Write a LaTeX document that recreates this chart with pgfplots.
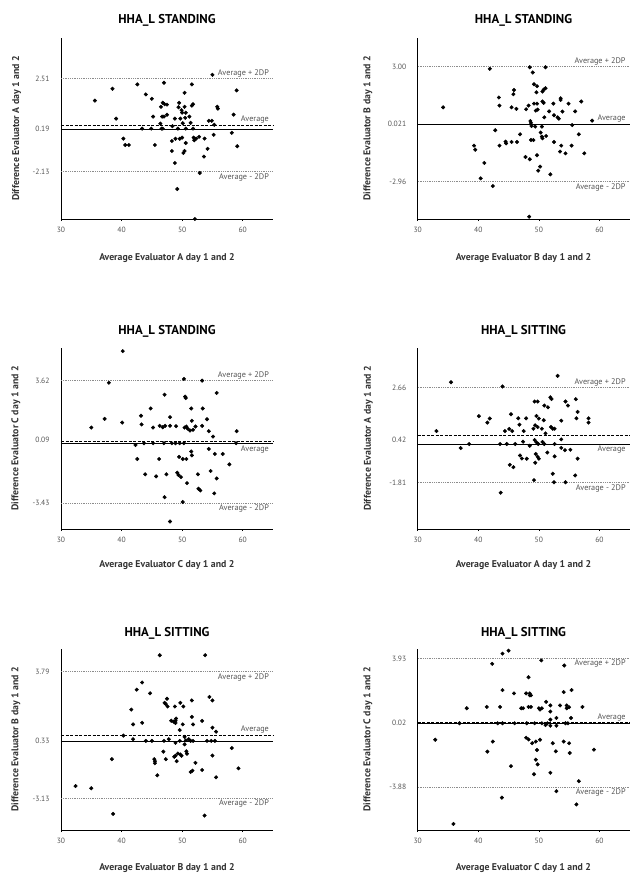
\documentclass[border=0pt]{standalone}
\usepackage{fontspec}
\setmainfont{PT Sans}
\usepackage{pgfplots}
\pgfplotsset{compat=1.18}
\definecolor{limgray}{HTML}{8C8C8C}
\definecolor{txtgray}{HTML}{555555}
\definecolor{lblgray}{HTML}{333333}
\pgfplotsset{
  ba/.style={
    scale only axis, width=212pt, height=181pt,
    anchor=south west,
    xmin=30, xmax=65,
    axis lines*=left,
    axis line style={line width=0.9pt},
    xtick={30,40,50,60}, xticklabels={30,40,50,60},
    tick align=outside, major tick length=2pt,
    xtick style={black, line width=0.6pt},
    ytick style={draw=none},
    ticklabel style={font=\fontsize{7.6}{9}\selectfont, text=txtgray},
    xticklabel style={yshift=-3pt},
    yticklabel style={xshift=-6pt},
    clip=false,
  },
  pts/.style={only marks, mark=*, mark size=1.8pt, black},
  lim/.style={limgray, densely dotted, line width=0.8pt},
  avg/.style={black, dash pattern=on 3pt off 1.5pt, line width=1pt},
  zer/.style={black, line width=1pt},
}
\newcommand{\ann}{\fontsize{8.2}{9}\selectfont\color{txtgray}}
\tikzset{ttl/.style={font=\fontsize{12.8}{14}\selectfont\bfseries},
  lbl/.style={font=\fontsize{9.8}{11}\selectfont\bfseries, text=lblgray}}
\begin{document}
\begin{tikzpicture}[x=1pt,y=1pt]
\path[use as bounding box] (0,0) rectangle (642,-883);

% ---------- Panel 1 ----------
\begin{axis}[ba, at={(61pt,-219pt)}, ymin=-4.5, ymax=4.55,
  ytick={-2.13,0,2.51}, yticklabels={-2.13,0.19,2.51}]
\addplot[lim] coordinates {(30,2.51) (65,2.51)};
\addplot[lim] coordinates {(30,-2.13) (65,-2.13)};
\addplot[avg] coordinates {(30,0.19) (65,0.19)};
\addplot[zer] coordinates {(30,0) (65,0)};
\addplot[pts] coordinates {
(35.6,1.42)(38.5,2.01)(42.6,2.23)(47.0,2.31)(50.4,1.81)(51.6,2.23)(55.0,2.71)(59.0,1.93)
(44.0,1.73)(45.0,1.51)(39.1,0.52)(45.2,0.62)(43.4,0.02)(44.9,0.02)(40.3,-0.48)(40.6,-0.80)
(41.2,-0.80)(45.5,-0.80)(46.5,1.11)(46.8,1.31)(47.1,1.24)(47.5,1.22)(46.7,0.62)(47.0,0.62)
(47.5,0.71)(46.4,0.27)(46.6,0.02)(46.8,0.02)(48.4,0.14)(48.8,0.52)(49.4,1.09)(49.5,1.31)
(49.7,0.52)(49.9,0.94)(50.0,0.82)(50.4,1.11)(50.5,0.56)(50.6,0.81)(51.2,0.62)(51.4,0.31)
(51.6,1.17)(51.8,1.24)(49.3,0.02)(50.6,0.02)(51.8,0.02)(48.3,-0.60)(48.9,-0.49)(49.6,-0.49)
(50.0,-0.43)(50.6,-0.70)(52.0,-0.56)(51.9,-0.43)(52.3,-0.48)(52.8,-0.39)(53.7,-0.48)(48.3,-1.10)
(48.8,-1.70)(50.2,-1.20)(50.4,-1.10)(53.6,-1.38)(54.2,-0.99)(52.9,-2.20)(49.2,-3.00)(52.1,-4.50)
(54.4,0.41)(54.9,0.41)(55.3,0.21)(55.2,-0.29)(55.8,1.11)(55.9,1.02)(58.5,0.72)(58.2,-0.19)
(59.1,-0.86)(50.1,0.29)};
\node[anchor=south east, inner sep=1.5pt] at (axis cs:64.6,2.51) {\ann Average + 2DP};
\node[anchor=south east, inner sep=1.5pt] at (axis cs:64.6,0.19) {\ann Average};
\node[anchor=north east, inner sep=1.5pt] at (axis cs:64.6,-2.13) {\ann Average - 2DP};
\end{axis}

% ---------- Panel 2 ----------
\begin{axis}[ba, at={(417.7pt,-219pt)}, ymin=-4.9, ymax=4.5,
  ytick={-2.96,0.021,3}, yticklabels={-2.96,0.021,3.00}]
\addplot[lim] coordinates {(30,3) (65,3)};
\addplot[lim] coordinates {(30,-2.96) (65,-2.96)};
\addplot[avg] coordinates {(30,0.021) (65,0.021)};
\addplot[zer] coordinates {(30,0) (65,0)};
\addplot[pts] coordinates {
(34.2,0.90)(41.9,2.90)(48.5,2.98)(51.1,2.98)(49.0,2.71)(49.2,2.10)(49.7,2.00)(49.6,1.68)
(50.6,1.72)(50.8,1.82)(51.1,1.89)(45.9,1.80)(45.8,1.58)(43.4,1.41)(43.5,0.99)(45.5,0.90)
(46.3,0.82)(47.9,0.80)(48.3,0.99)(49.2,1.09)(49.7,1.09)(49.5,0.73)(49.8,0.78)(50.6,1.20)
(50.8,1.13)(51.7,0.69)(52.4,1.09)(52.5,0.49)(53.1,0.38)(53.3,0.31)(53.6,1.37)(53.6,1.28)
(53.9,0.68)(54.9,1.09)(56.0,0.69)(57.0,1.20)(58.8,0.21)(55.5,-0.02)(50.9,0.38)(48.6,0.19)
(48.7,0.09)(48.8,-0.07)(50.5,-0.10)(49.4,-0.10)(42.8,-0.29)(46.9,-0.50)(44.5,-0.88)(44.6,-0.97)
(43.5,-1.09)(45.5,-0.90)(46.4,-0.90)(48.7,-0.80)(49.1,-0.80)(50.3,-0.41)(50.5,-0.62)(51.2,-0.59)
(50.6,-0.71)(52.5,-0.90)(53.7,-1.09)(55.4,-1.09)(56.6,-0.50)(53.5,-1.40)(54.4,-1.49)(57.5,-1.49)
(39.3,-1.09)(39.5,-1.30)(41.0,-1.99)(40.4,-2.79)(42.4,-3.19)(47.8,-1.68)(48.5,-1.80)(49.7,-1.59)
(49.9,-2.39)(50.2,-2.18)(51.9,-2.58)(48.4,-4.78)};
\node[anchor=south east, inner sep=1.5pt] at (axis cs:64.6,3) {\ann Average + 2DP};
\node[anchor=south east, inner sep=1.5pt] at (axis cs:64.6,0.021) {\ann Average};
\node[anchor=north east, inner sep=1.5pt] at (axis cs:64.6,-2.96) {\ann Average - 2DP};
\end{axis}

% ---------- Panel 3 ----------
\begin{axis}[ba, at={(61pt,-529pt)}, ymin=-4.92, ymax=5.5,
  ytick={-3.43,0.2,3.62}, yticklabels={-3.43,0.09,3.62}]
\addplot[lim] coordinates {(30,3.62) (65,3.62)};
\addplot[lim] coordinates {(30,-3.43) (65,-3.43)};
\addplot[avg] coordinates {(30,0.09) (65,0.09)};
\addplot[zer] coordinates {(30,0) (65,0)};
\addplot[pts] coordinates {
(40.2,5.32)(37.9,3.50)(50.3,3.72)(53.3,3.62)(47.1,2.81)(50.5,2.70)(50.6,2.62)(55.7,2.91)
(44.8,2.02)(51.5,2.02)(53.4,2.02)(37.2,1.42)(43.2,1.60)(43.3,1.10)(35.0,0.92)(40.1,1.21)
(48.0,1.52)(45.2,0.92)(46.3,1.02)(46.8,0.94)(47.2,1.02)(48.0,1.02)(49.0,1.00)(50.4,0.92)
(50.7,0.98)(50.9,0.86)(51.3,0.75)(51.6,1.31)(51.8,0.79)(52.2,0.98)(53.3,1.02)(54.1,1.40)
(54.4,0.71)(55.1,0.40)(59.0,0.71)(42.3,-0.08)(43.7,0.02)(45.2,0.02)(47.0,0.02)(48.3,0.02)
(48.9,0.02)(49.6,0.02)(50.3,0.02)(58.9,0.02)(54.4,-0.31)(55.4,-0.60)(56.7,-0.60)(57.8,-1.20)
(51.5,-0.46)(51.6,-0.68)(49.5,-0.77)(50.1,-0.89)(50.7,-0.89)(42.6,-0.89)(46.2,-0.89)(43.9,-1.77)
(45.7,-1.89)(47.4,-1.77)(49.2,-1.68)(49.4,-1.81)(49.8,-1.93)(50.8,-2.28)(52.6,-1.77)(52.7,-2.60)
(53.0,-2.70)(54.7,-1.58)(55.7,-2.01)(55.3,-2.87)(47.1,-3.09)(50.1,-3.37)(48.0,-4.49)};
\node[anchor=south east, inner sep=1.5pt] at (axis cs:64.6,3.62) {\ann Average + 2DP};
\node[anchor=north east, inner sep=1.5pt] at (axis cs:64.6,0) {\ann Average};
\node[anchor=north east, inner sep=1.5pt] at (axis cs:64.6,-3.43) {\ann Average - 2DP};
\end{axis}

% ---------- Panel 4 ----------
\begin{axis}[ba, at={(417.7pt,-529pt)}, ymin=-4.0, ymax=4.52,
  ytick={-1.81,0.2,2.66}, yticklabels={-1.81,0.42,2.66}]
\addplot[lim] coordinates {(30,2.66) (65,2.66)};
\addplot[lim] coordinates {(30,-1.81) (65,-1.81)};
\addplot[avg] coordinates {(30,0.42) (65,0.42)};
\addplot[zer] coordinates {(30,0) (65,0)};
\addplot[pts] coordinates {
(35.5,2.91)(44.0,2.71)(53.1,3.21)(33.1,0.61)(37.1,-0.19)(38.5,0.0)(40.1,1.31)(41.5,1.01)
(41.9,1.20)(45.4,1.40)(44.4,0.61)(45.1,0.71)(45.6,0.61)(46.6,1.21)(46.8,0.91)(47.5,0.61)
(47.9,1.21)(49.1,0.72)(49.4,0.88)(49.6,1.32)(50.0,1.20)(50.8,1.12)(50.5,0.72)(49.8,0.80)
(49.3,2.00)(49.8,2.00)(50.9,1.81)(51.5,1.73)(51.9,2.20)(52.1,2.12)(51.1,0.50)(52.0,0.80)
(52.3,0.72)(52.6,0.72)(54.4,2.00)(54.8,1.81)(56.1,2.11)(56.4,1.51)(56.2,1.21)(53.7,1.10)
(58.2,1.21)(58.2,1.01)(43.6,0.0)(44.7,0.0)(46.1,0.0)(47.4,0.11)(48.5,-0.08)(49.3,0.19)
(49.6,0.08)(49.9,0.0)(50.6,0.10)(50.9,0.0)(52.6,0.0)(51.4,-0.40)(53.7,-0.18)(54.3,-0.29)
(55.2,-0.27)(53.7,0.22)(46.9,-0.54)(47.2,-0.68)(48.0,-0.69)(49.5,-0.47)(49.8,-0.60)(50.0,-0.69)
(52.6,-0.58)(56.4,-0.69)(45.2,-0.98)(45.8,-1.09)(49.4,-0.88)(52.3,-1.40)(56.0,-1.48)(49.2,-1.70)
(52.5,-1.80)(54.4,-1.80)(43.7,-2.29)};
\node[anchor=south east, inner sep=1.5pt] at (axis cs:64.6,2.66) {\ann Average + 2DP};
\node[anchor=north east, inner sep=1.5pt] at (axis cs:64.6,0) {\ann Average};
\node[anchor=north east, inner sep=1.5pt] at (axis cs:64.6,-1.81) {\ann Average - 2DP};
\end{axis}

% ---------- Panel 5 ----------
\begin{axis}[ba, at={(61pt,-830pt)}, ymin=-4.86, ymax=5.03,
  ytick={-3.13,0,3.79}, yticklabels={-3.13,0.33,3.79}]
\addplot[lim] coordinates {(30,3.79) (65,3.79)};
\addplot[lim] coordinates {(30,-3.13) (65,-3.13)};
\addplot[avg] coordinates {(30,0.33) (65,0.33)};
\addplot[zer] coordinates {(30,0) (65,0)};
\addplot[pts] coordinates {
(46.3,4.69)(53.8,4.69)(43.4,3.20)(42.5,2.81)(44.7,2.61)(41.6,1.72)(41.9,0.91)(43.4,1.00)
(40.3,0.30)(41.9,0.10)(44.0,0.01)(45.0,0.01)(47.0,0.01)(47.8,0.10)(38.4,-0.99)(32.4,-2.46)
(35.0,-2.58)(38.6,-3.98)(53.7,-4.07)(47.5,2.31)(47.1,2.09)(47.3,2.02)(47.6,1.89)(48.8,1.89)
(49.7,2.09)(50.2,1.89)(51.6,2.22)(51.6,1.32)(51.8,0.91)(53.3,1.10)(54.5,2.41)(55.0,2.22)
(48.2,1.11)(48.6,1.06)(48.9,1.11)(48.9,0.99)(49.0,1.23)(50.1,0.91)(49.6,0.60)(55.0,0.73)
(55.6,0.51)(50.4,0.23)(49.6,0.01)(48.9,-0.10)(50.4,-0.18)(50.6,0.04)(51.1,0.10)(51.4,0.01)
(51.8,0.01)(54.1,0.01)(54.8,0.01)(55.4,0.01)(58.2,-0.38)(46.9,-0.58)(47.3,-0.99)(48.7,-0.86)
(48.9,-0.80)(49.1,-1.10)(49.3,-0.68)(49.7,-0.73)(49.9,-0.80)(50.7,-0.56)(50.8,-0.69)(55.0,-0.79)
(45.4,-0.99)(45.5,-1.10)(45.5,-1.21)(52.2,-1.19)(45.9,-1.87)(51.4,-1.69)(51.7,-1.62)(53.3,-1.58)
(55.6,-1.98)(59.3,-1.49)};
\node[anchor=north east, inner sep=1.5pt] at (axis cs:64.6,3.79) {\ann Average + 2DP};
\node[anchor=south east, inner sep=1.5pt] at (axis cs:64.6,0.33) {\ann Average};
\node[anchor=north east, inner sep=1.5pt] at (axis cs:64.6,-3.13) {\ann Average - 2DP};
\end{axis}

% ---------- Panel 6 ----------
\begin{axis}[ba, at={(417.7pt,-830pt)}, ymin=-6.47, ymax=4.5,
  ytick={-3.88,0.02,3.93}, yticklabels={-3.88,0.02,3.93}]
\addplot[lim] coordinates {(30,3.93) (65,3.93)};
\addplot[lim] coordinates {(30,-3.88) (65,-3.88)};
\addplot[avg] coordinates {(30,0.02) (65,0.02)};
\addplot[zer] coordinates {(30,0) (65,0)};
\addplot[pts] coordinates {
(44.0,4.22)(45.0,4.40)(42.3,3.60)(50.4,3.81)(54.2,3.50)(48.3,2.79)(44.0,2.01)(45.9,1.81)
(47.9,1.81)(48.5,1.81)(48.7,1.69)(48.5,1.69)(54.1,1.89)(55.4,2.01)(51.2,1.30)(51.9,1.08)
(53.5,1.08)(54.6,1.08)(55.0,0.97)(54.6,0.91)(57.2,0.99)(38.1,0.91)(41.4,0.99)(43.6,0.99)
(47.1,0.91)(47.4,0.91)(48.3,0.99)(48.7,0.99)(50.0,0.91)(50.2,0.83)(50.5,0.91)(51.9,0.71)
(52.9,0.32)(55.3,0.32)(51.9,0.22)(36.9,0.0)(43.2,0.0)(44.0,0.0)(46.0,0.0)(48.0,0.0)
(49.3,0.0)(50.5,0.0)(51.1,-0.11)(51.4,0.0)(51.9,-0.15)(52.9,-0.15)(54.4,0.0)(54.8,0.0)
(32.9,-1.00)(42.4,-1.11)(41.5,-1.72)(47.9,-0.88)(48.3,-0.98)(48.9,-1.21)(49.5,-1.11)(50.2,-1.00)
(52.3,-1.21)(54.1,-1.11)(55.0,-1.21)(49.7,-1.62)(52.8,-1.70)(55.1,-1.80)(59.1,-1.60)(49.5,-2.21)
(49.8,-2.49)(45.4,-2.60)(49.2,-3.09)(51.9,-3.00)(56.6,-3.51)(52.9,-4.12)(43.9,-4.51)(56.2,-4.92)
(35.9,-6.10)};
\node[anchor=north east, inner sep=1.5pt] at (axis cs:64.6,3.93) {\ann Average + 2DP};
\node[anchor=south east, inner sep=1.5pt] at (axis cs:64.6,0.02) {\ann Average};
\node[anchor=north east, inner sep=1.5pt] at (axis cs:64.6,-3.88) {\ann Average - 2DP};
\end{axis}

% ---------- Titles and labels ----------
\node[ttl] at (167,-20.7) {HHA\_L STANDING};
\node[ttl] at (523.5,-20.7) {HHA\_L STANDING};
\node[ttl] at (167,-331) {HHA\_L STANDING};
\node[ttl] at (523.5,-331) {HHA\_L SITTING};
\node[ttl] at (167,-633) {HHA\_L SITTING};
\node[ttl] at (523.5,-633) {HHA\_L SITTING};

\node[lbl] at (167,-258) {Average Evaluator A day 1 and 2};
\node[lbl] at (523.5,-258) {Average Evaluator B day 1 and 2};
\node[lbl] at (167,-565) {Average Evaluator C day 1 and 2};
\node[lbl] at (523.5,-565) {Average Evaluator A day 1 and 2};
\node[lbl] at (167,-868) {Average Evaluator B day 1 and 2};
\node[lbl] at (523.5,-868) {Average Evaluator C day 1 and 2};

\node[lbl, rotate=90] at (16.7,-128.5) {Difference Evaluator A day 1 and 2};
\node[lbl, rotate=90] at (368,-128.5) {Difference Evaluator B day 1 and 2};
\node[lbl, rotate=90] at (16,-438.5) {Difference Evaluator C day 1 and 2};
\node[lbl, rotate=90] at (368.5,-438.5) {Difference Evaluator A day 1 and 2};
\node[lbl, rotate=90] at (16,-739.5) {Difference Evaluator B day 1 and 2};
\node[lbl, rotate=90] at (368,-739.5) {Difference Evaluator C day 1 and 2};
\end{tikzpicture}
\end{document}
